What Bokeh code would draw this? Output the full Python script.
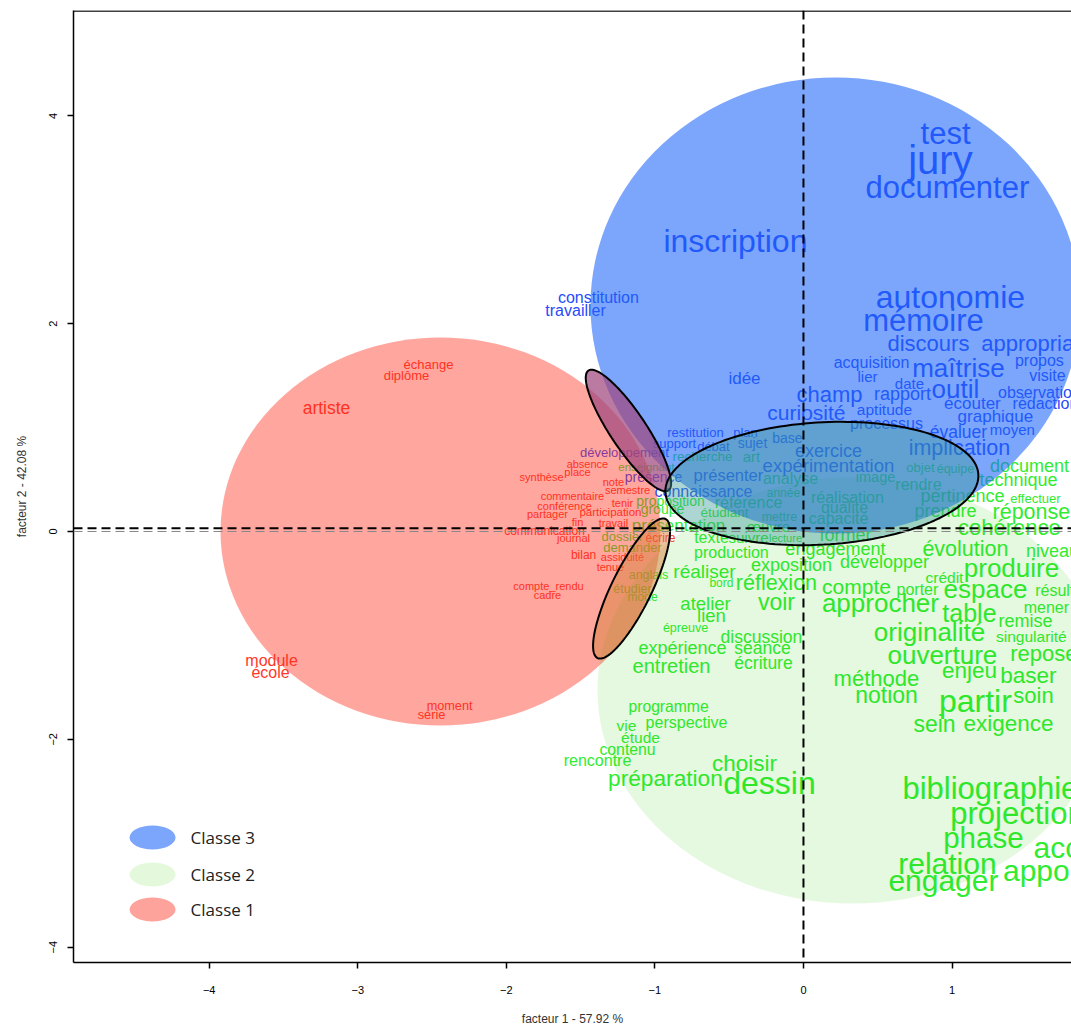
import numpy as np
from bokeh.plotting import figure
from bokeh.models import ColumnDataSource, Range1d, FixedTicker, Span
from bokeh.core.properties import value
from bokeh.embed import file_html
from bokeh.resources import INLINE

# ---------------- data ----------------
# Classe 3 (blue) words: factor 1, factor 2, weight (px)
words3 = ["test", "jury", "documenter", "inscription", "autonomie", "mémoire", "discours",
          "appropriation", "maîtrise", "acquisition", "propos", "lier", "visite", "date", "outil",
          "champ", "rapport", "observation", "idée", "curiosité", "aptitude", "écouter",
          "rédaction", "graphique", "processus", "évaluer", "moyen", "implication", "exercice",
          "expérimentation", "restitution", "plan", "support", "débat", "sujet", "base",
          "développement", "présenter", "présence", "connaissance", "constitution", "travailler"]
x3 = [0.956, 0.922, 0.969, -0.458, 0.989, 0.808, 0.841, 1.629, 1.043, 0.458, 1.588, 0.431, 1.642,
      0.713, 1.023, 0.175, 0.666, 1.588, -0.397, 0.020, 0.545, 1.137, 1.629, 1.292, 0.559, 1.043,
      1.406, 1.050, 0.168, 0.168, -0.727, -0.390, -0.868, -0.606, -0.343, -0.108, -1.205, -0.505,
      -1.009, -0.673, -1.380, -1.534]
y3 = [3.831, 3.571, 3.311, 2.791, 2.252, 2.031, 1.809, 1.809, 1.578, 1.627, 1.646, 1.492, 1.501,
      1.424, 1.376, 1.319, 1.328, 1.338, 1.473, 1.145, 1.174, 1.232, 1.232, 1.107, 1.039, 0.953,
      0.982, 0.799, 0.770, 0.635, 0.953, 0.953, 0.847, 0.818, 0.847, 0.895, 0.760, 0.539, 0.520,
      0.385, 2.252, 2.127]
w3 = [31, 40, 31, 32, 32, 31, 22, 22, 26, 16, 16, 15, 16, 15, 26, 22, 18, 16, 17, 21, 15.5, 17, 16,
      17, 16, 17.5, 15, 21.5, 18, 18.5, 13, 13, 13, 13, 14, 14, 13, 16.5, 14, 16, 16, 16]

# Classe 2 (green) words
words2 = ["recherche", "art", "enseignant", "analyse", "image", "objet", "équipe", "document",
          "technique", "rendre", "année", "réalisation", "pertinence", "effectuer", "qualité",
          "proposition", "référence", "groupe", "étudiant", "mettre", "capacité", "prendre",
          "réponse", "présentation", "œuvre", "cohérence", "texte", "suivre", "lecture", "dossier",
          "demander", "anglais", "étudier", "mode", "production", "engagement", "développer",
          "évolution", "niveau", "réaliser", "exposition", "crédit", "produire", "bord", "réflexion",
          "compte", "porter", "espace", "résultat", "atelier", "voir", "approcher", "table", "mener",
          "lien", "remise", "épreuve", "discussion", "originalité", "singularité", "expérience",
          "séance", "ouverture", "reposer", "entretien", "écriture", "enjeu", "baser", "méthode",
          "notion", "partir", "soin", "sein", "exigence", "programme", "perspective", "vie", "étude",
          "contenu", "rencontre", "choisir", "préparation", "dessin", "bibliographie", "projection",
          "phase", "accord", "relation", "apport", "engager", "former"]
x2 = [-0.680, -0.350, -1.057, -0.087, 0.485, 0.787, 1.023, 1.521, 1.447, 0.774,
      -0.135, 0.296, 1.070, 1.561, 0.276, -0.895, -0.370, -0.949, -0.532, -0.162,
      0.236, 0.956, 1.534, -0.841, -0.236, 1.386, -0.619, -0.370, -0.121, -1.218,
      -1.151, -1.043, -1.151, -1.083, -0.485, 0.215, 0.545, 1.090, 1.676, -0.666,
      -0.081, 0.949, 1.400, -0.552, -0.182, 0.357, 0.767, 1.225, 1.736, -0.659,
      -0.182, 0.518, 1.117, 1.635, -0.619, 1.494, -0.794, -0.283, 0.848, 1.534,
      -0.814, -0.276, 0.935, 1.642, -0.888, -0.269, 1.117, 1.514, 0.491, 0.559,
      1.157, 1.548, 0.882, 1.380, -0.908, -0.787, -1.191, -1.097, -1.184, -1.386,
      -0.397, -0.929, -0.229, 1.258, 1.440, 1.211, 1.851, 0.969, 1.629, 0.942,
      0.283]
y2 = [0.722, 0.722, 0.616, 0.510, 0.520, 0.616, 0.606, 0.635, 0.491, 0.452,
      0.375, 0.327, 0.346, 0.318, 0.231, 0.298, 0.279, 0.212, 0.183, 0.144,
      0.125, 0.202, 0.183, 0.058, 0.048, 0.038, -0.058, -0.058, -0.058, -0.048,
      -0.154, -0.423, -0.549, -0.635, -0.202, -0.173, -0.298, -0.164, -0.183, -0.385,
      -0.327, -0.443, -0.356, -0.500, -0.500, -0.529, -0.558, -0.558, -0.568, -0.693,
      -0.683, -0.693, -0.780, -0.731, -0.808, -0.866, -0.924, -1.011, -0.972, -1.011,
      -1.126, -1.126, -1.193, -1.174, -1.290, -1.270, -1.338, -1.386, -1.415, -1.578,
      -1.627, -1.578, -1.848, -1.848, -1.684, -1.838, -1.867, -1.983, -2.098, -2.204,
      -2.233, -2.377, -2.425, -2.474, -2.714, -2.945, -3.041, -3.195, -3.263, -3.359,
      -0.029]
w2 = [13.5, 15, 11.5, 16, 14.5, 13, 12.5, 18, 18, 16,
      12, 16, 18, 13, 16, 14, 16, 14, 13.5, 12.5,
      16, 18, 21.5, 17, 15, 22, 16, 15, 11, 13,
      13, 12.5, 12.5, 12, 16, 18, 18, 21.5, 18, 19,
      18, 15.5, 26, 12, 21.5, 21, 16, 26, 16, 18.5,
      23, 26, 25, 16, 18.5, 18, 12.5, 17.5, 26, 15.5,
      18, 17.5, 26, 22, 20, 17.5, 22.5, 22.5, 22, 23,
      32, 22, 23, 22.5, 15.7, 16, 15.5, 15.5, 15.8, 16,
      22.5, 22.7, 32, 31, 31, 29.5, 30, 30, 30, 30,
      18]

# Classe 1 (red) words
words1 = ["échange", "diplôme", "artiste", "absence", "place", "synthèse", "note", "semestre",
          "commentaire", "conférence", "tenir", "partager", "participation", "fin", "travail",
          "communication", "journal", "écrire", "bilan", "assiduité", "tenue", "compte_rendu",
          "cadre", "module", "école", "moment", "série"]
x1 = [-2.524, -2.672, -3.210, -1.454, -1.521, -1.763, -1.279, -1.184, -1.555, -1.608, -1.218,
      -1.723, -1.299, -1.521, -1.279, -1.743, -1.548, -0.962, -1.480, -1.218, -1.299, -1.716,
      -1.723, -3.580, -3.587, -2.382, -2.503]
y1 = [1.607, 1.501, 1.184, 0.654, 0.577, 0.520, 0.481, 0.395, 0.346, 0.250, 0.279, 0.164, 0.183,
      0.096, 0.077, 0.0, -0.067, -0.058, -0.231, -0.250, -0.337, -0.529, -0.616, -1.242, -1.357,
      -1.675, -1.761]
w1 = [13, 13, 17.5, 11, 11, 11, 11, 11, 11, 11, 11, 11, 11.5, 11, 11, 12, 11, 12, 12, 11, 11, 11,
      11, 16, 16, 12.7, 12.8]

# class ellipses (center, full width, full height), classes 1, 2, 3
class_names = ["Classe 1", "Classe 2", "Classe 3"]
ell_cx = [-2.443, 0.330, 0.215]
ell_cy = [0.0, -1.530, 2.175]
ell_w = [2.961, 3.432, 3.297]
ell_h = [3.734, 4.100, 4.389]

# small confidence ellipses (center, half major vector, half minor vector)
pet_cx = [-1.178, 0.124, -1.157]
pet_cy = [0.972, 0.462, -0.549]
pet_ux = [0.269, 1.053, 0.229]
pet_uy = [-0.577, 0.087, 0.669]
pet_vx = [0.101, 0.024, 0.121]
pet_vy = [0.096, -0.587, -0.085]

xticks = [-4, -3, -2, -1, 0, 1]
yticks = [-4, -2, 0, 2, 4]

# ---------------- styles ----------------
text_colors = {1: "#ff3728", 2: "#30ec30", 3: "#284bfa"}
ell_colors = ["#ff2a1a", "#28c800", "#1e64fa"]
ell_alphas = [0.42, 0.12, 0.58]
pet_fill = ["#a0467e", "#3a9a96", "#d8803a"]
pet_alpha = [0.72, 0.42, 0.5]
leg_colors = ["#7ca6fb", "#e4f8dc", "#fda39b"]

FONT = "Liberation Sans"

p = figure(width=1071, height=1030,
           x_range=Range1d(-4.913, 1.804), y_range=Range1d(-4.148, 5.014),
           output_backend="svg", toolbar_location=None,
           min_border_left=73, min_border_right=0, min_border_top=10, min_border_bottom=68)
p.outline_line_color = None
p.xgrid.visible = False
p.ygrid.visible = False
p.background_fill_color = "white"
p.border_fill_color = "white"

# words
all_words = words1 + words2 + words3
all_x = x1 + x2 + x3
all_y = y1 + y2 + y3
all_size = ["%.1fpx" % s for s in (w1 + w2 + w3)]
all_col = [text_colors[1]] * len(words1) + [text_colors[2]] * len(words2) + [text_colors[3]] * len(words3)
src = ColumnDataSource(dict(x=all_x, y=all_y, t=all_words, s=all_size, c=all_col))
p.text(x="x", y="y", text="t", text_font_size="s", text_color="c", source=src,
       text_align="center", text_baseline="middle", text_font=value(FONT))

# class ellipses over the words (semi transparent)
for i in range(3):
    p.ellipse(x=[ell_cx[i]], y=[ell_cy[i]], width=[ell_w[i]], height=[ell_h[i]],
              fill_color=ell_colors[i], fill_alpha=ell_alphas[i], line_color=None)

# small ellipses
t = np.linspace(0, 2 * np.pi, 160)
pxs, pys = [], []
for i in range(3):
    pxs.append(list(pet_cx[i] + pet_ux[i] * np.cos(t) + pet_vx[i] * np.sin(t)))
    pys.append(list(pet_cy[i] + pet_uy[i] * np.cos(t) + pet_vy[i] * np.sin(t)))
psrc = ColumnDataSource(dict(xs=pxs, ys=pys, fc=pet_fill, fa=pet_alpha))
p.patches(xs="xs", ys="ys", fill_color="fc", fill_alpha="fa", source=psrc,
          line_color="black", line_width=2)

# reference lines
p.add_layout(Span(location=0, dimension="width", line_color="#888888", line_dash="9 5", line_width=1))
p.add_layout(Span(location=0.03, dimension="width", line_color="black", line_dash="9 5", line_width=2))
p.add_layout(Span(location=0, dimension="height", line_color="black", line_dash="9 5", line_width=2))
p.add_layout(Span(location=5.008, dimension="width", line_color="black", line_width=1.5))

# legend (drawn manually, ellipse keys)
leg_labels = ["Classe 3", "Classe 2", "Classe 1"]
leg_y = [-2.945, -3.301, -3.638]
p.ellipse(x=[-4.381] * 3, y=leg_y, width=46, height=24, width_units="screen", height_units="screen",
          fill_color=leg_colors, line_color=None)
p.text(x=[-4.125] * 3, y=leg_y, text=leg_labels, text_font=value("Open Sans"), text_font_size="17px",
       text_color="#222222", text_align="left", text_baseline="middle")

# axes
for ax in (p.xaxis[0], p.yaxis[0]):
    ax.axis_line_width = 1.5
    ax.axis_line_color = "black"
    ax.major_tick_in = 0
    ax.major_tick_out = 6
    ax.major_tick_line_width = 1.5
    ax.minor_tick_line_color = None
    ax.major_label_text_font = FONT
    ax.major_label_text_font_size = "11px"
    ax.major_label_text_color = "black"
    ax.axis_label_text_font = FONT
    ax.axis_label_text_font_size = "12px"
    ax.axis_label_text_font_style = "normal"
    ax.axis_label_text_color = "#333333"
p.xaxis.ticker = FixedTicker(ticks=xticks)
p.yaxis.ticker = FixedTicker(ticks=yticks)
p.xaxis.axis_label = "facteur 1 - 57.92 %"
p.yaxis.axis_label = "facteur 2 - 42.08 %"
p.xaxis.major_label_standoff = 17
p.xaxis.axis_label_standoff = 15
p.yaxis.major_label_standoff = 10
p.yaxis.axis_label_standoff = 18
p.yaxis.major_label_orientation = "vertical"

open("out.html", "w").write(file_html(p, INLINE))
